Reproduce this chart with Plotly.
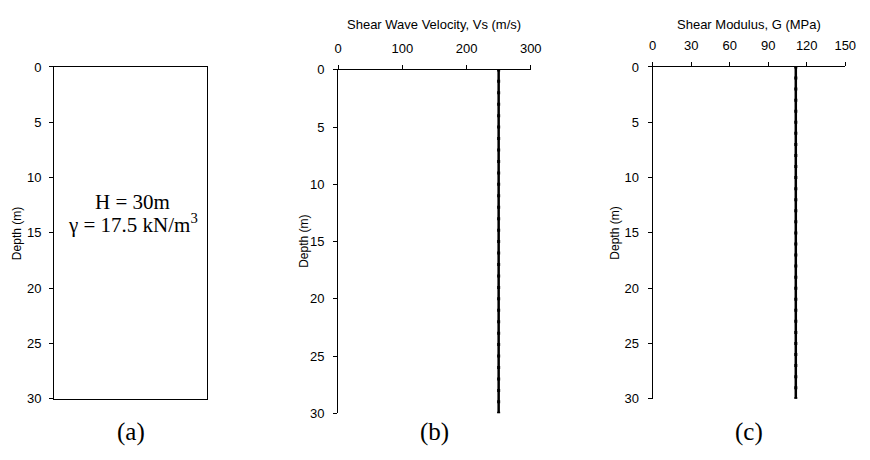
import plotly.graph_objects as go

# Data
depth = list(range(0, 31))
vs_values = [250] * len(depth)
g_values = [111.5] * len(depth)
depth_ticks = [0, 5, 10, 15, 20, 25, 30]
vs_ticks = [0, 100, 200, 300]
g_ticks = [0, 30, 60, 90, 120, 150]

W, H = 870, 460

def xd(a, b):
    return [a / W, b / W]

def yd(top, bottom):
    return [1 - bottom / H, 1 - top / H]

fig = go.Figure()

line_style = dict(color="black", width=2.5)
marker_style = dict(symbol="square", size=3, color="black")

fig.add_trace(go.Scatter(x=vs_values, y=depth, mode="lines+markers", line=line_style,
                         marker=marker_style, xaxis="x2", yaxis="y2", showlegend=False, hoverinfo="skip"))
fig.add_trace(go.Scatter(x=g_values, y=depth, mode="lines+markers", line=line_style,
                         marker=marker_style, xaxis="x3", yaxis="y3", showlegend=False, hoverinfo="skip"))
# invisible trace for panel a to make axes render
fig.add_trace(go.Scatter(x=[0.5], y=[15], mode="markers", marker=dict(opacity=0),
                         xaxis="x", yaxis="y", showlegend=False, hoverinfo="skip"))

tickfont = dict(family="Arial", size=13, color="black")
ax_common = dict(showline=True, linecolor="black", linewidth=1, showgrid=False, zeroline=False,
                 tickfont=tickfont, ticks="outside", ticklen=4, tickcolor="black", tickwidth=1)

fig.update_layout(
    width=W, height=H,
    margin=dict(l=0, r=0, t=0, b=0),
    paper_bgcolor="white", plot_bgcolor="white",
    xaxis=dict(domain=xd(51, 207), range=[0, 1], showline=True, mirror=True, linecolor="black",
               linewidth=1, showticklabels=False, ticks="", showgrid=False, zeroline=False, anchor="y"),
    yaxis=dict(domain=yd(62, 405), range=[30, 0], tickvals=depth_ticks, mirror=True, anchor="x",
               ticklabelstandoff=5, **ax_common),
    xaxis2=dict(domain=xd(340, 536), range=[0, 300], tickvals=vs_ticks, side="top", anchor="y2",
                ticklabelstandoff=7, **ax_common),
    yaxis2=dict(domain=yd(65, 420), range=[30, 0], tickvals=depth_ticks, anchor="x2",
                ticklabelstandoff=6, **ax_common),
    xaxis3=dict(domain=xd(660, 856), range=[0, 150], tickvals=g_ticks, side="top", anchor="y3",
                ticklabelstandoff=7, **ax_common),
    yaxis3=dict(domain=yd(62, 405), range=[30, 0], tickvals=depth_ticks, anchor="x3",
                ticklabelstandoff=6, **ax_common),
)

titlefont = dict(family="Arial", size=12, color="black")
topfont = dict(family="Arial", size=13, color="black")
serif = dict(family="Liberation Serif, Times New Roman", size=25, color="black")
serif_small = dict(family="Liberation Serif, Times New Roman", size=21, color="black")

annotations = [
    dict(text="Depth (m)", x=14 / W, y=1 - 234 / H, textangle=-90, font=titlefont),
    dict(text="Depth (m)", x=305 / W, y=1 - 242 / H, textangle=-90, font=titlefont),
    dict(text="Depth (m)", x=622 / W, y=1 - 234 / H, textangle=-90, font=titlefont),
    dict(text="Shear Wave Velocity, Vs (m/s)", x=438 / W, y=1 - 18 / H, font=topfont),
    dict(text="Shear Modulus, G (MPa)", x=758 / W, y=1 - 18 / H, font=topfont),
    dict(text="H = 30m", x=131 / W, y=1 - 202 / H, font=serif_small),
    dict(text="γ = 17.5 kN/m<sup>3</sup>", x=131 / W, y=1 - 224 / H, font=serif_small),
    dict(text="(a)", x=129 / W, y=1 - 439 / H, font=serif),
    dict(text="(b)", x=438 / W, y=1 - 439 / H, font=serif),
    dict(text="(c)", x=758 / W, y=1 - 439 / H, font=serif),
]
for a in annotations:
    a.update(xref="paper", yref="paper", showarrow=False, xanchor="center", yanchor="middle")
fig.update_layout(annotations=annotations)

fig.write_html("out.html")
